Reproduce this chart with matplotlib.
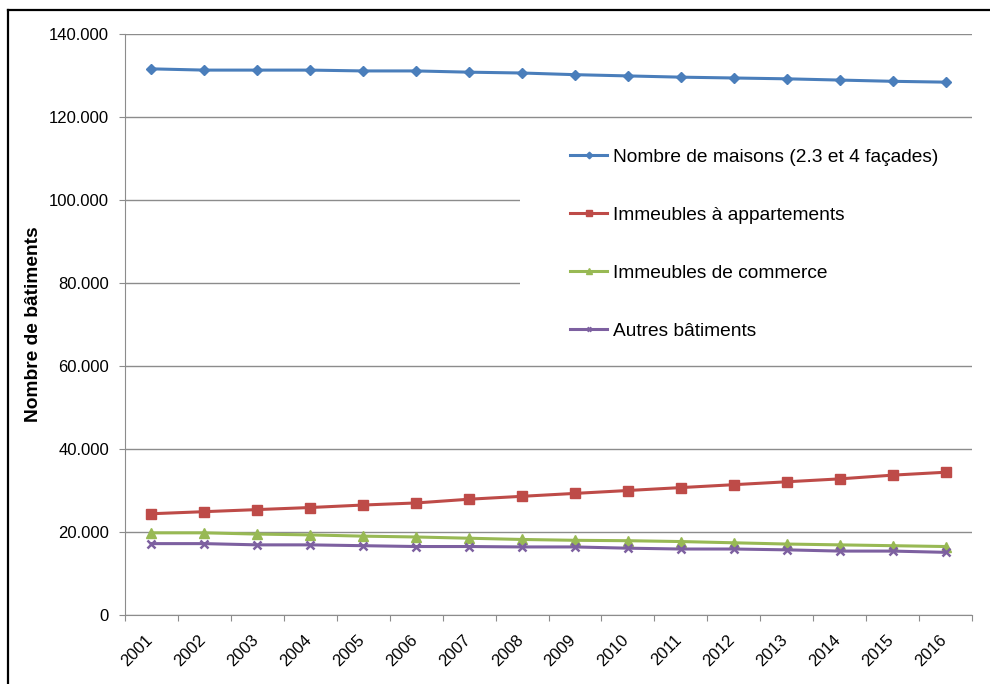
import matplotlib
matplotlib.use('Agg')
import matplotlib.pyplot as plt
from matplotlib.patches import Rectangle
from matplotlib.lines import Line2D
from matplotlib.ticker import FuncFormatter, FixedLocator
from matplotlib.transforms import ScaledTranslation

plt.rcParams['font.family'] = ['Liberation Sans', 'DejaVu Sans']

years = ['2001', '2002', '2003', '2004', '2005', '2006', '2007', '2008',
         '2009', '2010', '2011', '2012', '2013', '2014', '2015', '2016']
maisons = [131600, 131300, 131300, 131300, 131100, 131100, 130800, 130600,
           130200, 129900, 129600, 129400, 129200, 128900, 128600, 128400]
appartements = [24400, 24900, 25400, 25900, 26500, 27000, 27900, 28600,
                29300, 30000, 30700, 31400, 32100, 32800, 33700, 34400]
commerce = [19800, 19800, 19500, 19300, 19000, 18800, 18500, 18200,
            18000, 17900, 17700, 17400, 17100, 16900, 16700, 16500]
autres = [17200, 17200, 16900, 16900, 16700, 16500, 16500, 16400,
          16400, 16100, 15900, 15900, 15700, 15400, 15400, 15100]

labels = ['Nombre de maisons (2.3 et 4 façades)', 'Immeubles à appartements',
          'Immeubles de commerce', 'Autres bâtiments']

fig = plt.figure(figsize=(9.9, 6.84), dpi=100)
ax = fig.add_axes([125/990, 1-615/684, 847/990, 581/684])

x = list(range(len(years)))
series = [maisons, appartements, commerce, autres]
colors = ['#4A7EBB', '#BE4B48', '#98B954', '#7D60A0']
markers = ['D', 's', '^', 'x']
msizes = [5.6, 6.5, 6.5, 6]
for vals, c, m, ms, lab in zip(series, colors, markers, msizes, labels):
    ax.plot(x, vals, color=c, lw=2.2, marker=m, ms=ms, mew=1.8 if m == 'x' else 1,
            label=lab, zorder=3)

ax.set_xlim(-0.5, len(years) - 0.5)
ax.set_ylim(0, 140000)
ax.set_yticks(range(0, 140001, 20000))
ax.yaxis.set_major_formatter(FuncFormatter(lambda v, p: f'{int(v):,}'.replace(',', '.')))
ax.grid(axis='y', color='#8C8C8C', lw=1)
ax.set_axisbelow(True)

# category ticks between the years, labels at the year
ax.xaxis.set_major_locator(FixedLocator([i - 0.5 for i in range(len(years) + 1)]))
ax.xaxis.set_minor_locator(FixedLocator(x))
ax.set_xticklabels([''] * (len(years) + 1))
ax.set_xticklabels(years, minor=True, rotation=45, ha='right', va='top', fontsize=12)
ax.tick_params(axis='x', which='major', length=4.5, color='#8C8C8C')
ax.tick_params(axis='x', which='minor', length=0, pad=10)
ax.tick_params(axis='y', length=4.5, color='#8C8C8C', pad=7, labelsize=12)
shift = ScaledTranslation(4/100, -3/100, fig.dpi_scale_trans)
for t in ax.get_xticklabels(minor=True):
    t.set_transform(t.get_transform() + shift)

for s in ['top', 'right']:
    ax.spines[s].set_visible(False)
for s in ['left', 'bottom']:
    ax.spines[s].set_color('#8C8C8C')

ax.set_ylabel('Nombre de bâtiments', fontsize=13.8, fontweight='bold')
ax.yaxis.set_label_coords(-0.098, 0.5)

# white box behind the legend hiding the gridlines
ax.add_patch(Rectangle((0.466, 0.4475), 0.56, 0.39, transform=ax.transAxes,
                       facecolor='white', edgecolor='none', zorder=1, clip_on=False))

ax.legend(loc='upper left', bbox_to_anchor=(570/990, 1-148.6/684),
          bbox_transform=fig.transFigure, frameon=False, fontsize=13.8,
          borderpad=0, borderaxespad=0, handlelength=1.95, handletextpad=0.28,
          labelspacing=2.12, markerscale=0.6)

# outer frame (cropped on the right and bottom)
fig.add_artist(Line2D([8/990, 8/990], [0, 1-10/684], color='black', lw=1.6,
                      transform=fig.transFigure))
fig.add_artist(Line2D([8/990, 1], [1-10/684, 1-10/684], color='black', lw=1.6,
                      transform=fig.transFigure))

fig.savefig('out.png', dpi=100)
